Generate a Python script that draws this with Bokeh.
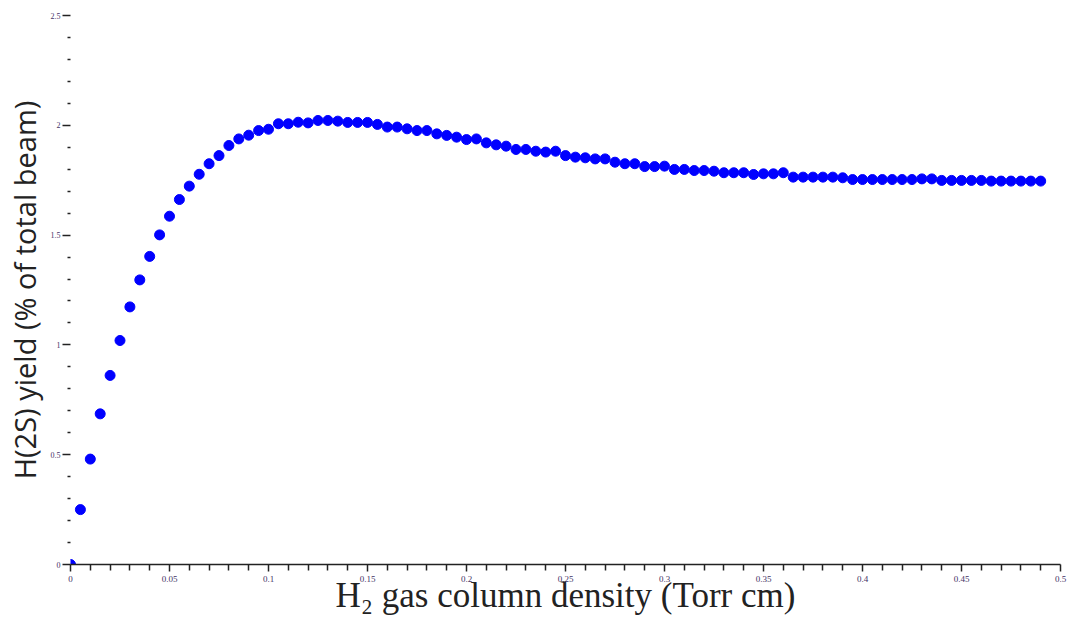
from bokeh.plotting import figure
from bokeh.models import FixedTicker, ColumnDataSource, Range1d
from bokeh.embed import file_html
from bokeh.resources import INLINE

# column density (Torr cm), step 0.005
density = [0.000, 0.005, 0.010, 0.015, 0.020, 0.025, 0.030, 0.035, 0.040, 0.045,
           0.050, 0.055, 0.060, 0.065, 0.070, 0.075, 0.080, 0.085, 0.090, 0.095,
           0.100, 0.105, 0.110, 0.115, 0.120, 0.125, 0.130, 0.135, 0.140, 0.145,
           0.150, 0.155, 0.160, 0.165, 0.170, 0.175, 0.180, 0.185, 0.190, 0.195,
           0.200, 0.205, 0.210, 0.215, 0.220, 0.225, 0.230, 0.235, 0.240, 0.245,
           0.250, 0.255, 0.260, 0.265, 0.270, 0.275, 0.280, 0.285, 0.290, 0.295,
           0.300, 0.305, 0.310, 0.315, 0.320, 0.325, 0.330, 0.335, 0.340, 0.345,
           0.350, 0.355, 0.360, 0.365, 0.370, 0.375, 0.380, 0.385, 0.390, 0.395,
           0.400, 0.405, 0.410, 0.415, 0.420, 0.425, 0.430, 0.435, 0.440, 0.445,
           0.450, 0.455, 0.460, 0.465, 0.470, 0.475, 0.480, 0.485, 0.490]

# H(2S) yield (% of total beam)
h2s_yield = [0.000, 0.250, 0.480, 0.686, 0.861, 1.020, 1.173, 1.296, 1.403, 1.501,
             1.586, 1.662, 1.723, 1.777, 1.825, 1.862, 1.908, 1.938, 1.955, 1.976,
             1.982, 2.007, 2.007, 2.014, 2.011, 2.022, 2.022, 2.019, 2.013, 2.013,
             2.013, 2.004, 1.992, 1.992, 1.984, 1.976, 1.976, 1.961, 1.954, 1.946,
             1.935, 1.938, 1.920, 1.911, 1.905, 1.890, 1.890, 1.882, 1.878, 1.882,
             1.862, 1.855, 1.852, 1.847, 1.847, 1.832, 1.825, 1.825, 1.812, 1.812,
             1.814, 1.799, 1.799, 1.794, 1.794, 1.791, 1.784, 1.784, 1.784, 1.776,
             1.779, 1.779, 1.784, 1.764, 1.764, 1.764, 1.764, 1.764, 1.761, 1.753,
             1.753, 1.753, 1.753, 1.753, 1.753, 1.753, 1.756, 1.756, 1.749, 1.749,
             1.749, 1.749, 1.749, 1.746, 1.746, 1.746, 1.746, 1.746, 1.746]

x_ticks = [0.0, 0.05, 0.1, 0.15, 0.2, 0.25, 0.3, 0.35, 0.4, 0.45, 0.5]
x_tick_labels = ["0", "0.05", "0.1", "0.15", "0.2", "0.25", "0.3", "0.35", "0.4", "0.45", "0.5"]
x_minor = [0.01, 0.02, 0.03, 0.04, 0.06, 0.07, 0.08, 0.09, 0.11, 0.12, 0.13, 0.14,
           0.16, 0.17, 0.18, 0.19, 0.21, 0.22, 0.23, 0.24, 0.26, 0.27, 0.28, 0.29,
           0.31, 0.32, 0.33, 0.34, 0.36, 0.37, 0.38, 0.39, 0.41, 0.42, 0.43, 0.44,
           0.46, 0.47, 0.48, 0.49]
y_ticks = [0.0, 0.5, 1.0, 1.5, 2.0, 2.5]
y_tick_labels = ["0", "0.5", "1", "1.5", "2", "2.5"]
y_minor = [0.1, 0.2, 0.3, 0.4, 0.6, 0.7, 0.8, 0.9, 1.1, 1.2, 1.3, 1.4,
           1.6, 1.7, 1.8, 1.9, 2.1, 2.2, 2.3, 2.4]

source = ColumnDataSource(data=dict(x=density, y=h2s_yield))

p = figure(width=1076, height=617, output_backend="svg", toolbar_location=None,
           x_range=Range1d(0, 0.5), y_range=Range1d(0, 2.5),
           min_border_left=70, min_border_right=16, min_border_top=15, min_border_bottom=53)
p.outline_line_color = None
p.xgrid.grid_line_color = None
p.ygrid.grid_line_color = None
p.background_fill_color = "white"
p.border_fill_color = "white"

p.scatter("x", "y", source=source, size=10, color="#0000ff", line_color="#0000ff")

# x axis
p.xaxis.ticker = FixedTicker(ticks=x_ticks, minor_ticks=x_minor)
p.xaxis.major_label_overrides = {t: l for t, l in zip(x_ticks, x_tick_labels)}
p.xaxis.axis_line_color = "#222222"
p.xaxis.axis_line_width = 1.5
p.xaxis.major_tick_line_color = "#222222"
p.xaxis.major_tick_line_width = 1.5
p.xaxis.minor_tick_line_color = "#222222"
p.xaxis.minor_tick_line_width = 1.5
p.xaxis.major_tick_out = 7
p.xaxis.major_tick_in = 0
p.xaxis.minor_tick_out = 6
p.xaxis.minor_tick_in = 0
p.xaxis.major_label_text_font = "Liberation Sans Narrow"
p.xaxis.major_label_text_font_size = "9px"
p.xaxis.major_label_text_color = "#443366"
p.xaxis.major_label_standoff = 4
p.xaxis.axis_label = "H\u2082 gas column density (Torr cm)"
p.xaxis.axis_label_text_font = "Liberation Serif"
p.xaxis.axis_label_text_font_style = "normal"
p.xaxis.axis_label_text_font_size = "35px"
p.xaxis.axis_label_text_color = "#222222"
p.xaxis.axis_label_standoff = -9

# y axis
p.yaxis.ticker = FixedTicker(ticks=y_ticks, minor_ticks=y_minor)
p.yaxis.major_label_overrides = {t: l for t, l in zip(y_ticks, y_tick_labels)}
p.yaxis.axis_line_color = None
p.yaxis.major_tick_line_color = "#222222"
p.yaxis.major_tick_line_width = 1.5
p.yaxis.minor_tick_line_color = "#222222"
p.yaxis.minor_tick_line_width = 1.5
p.yaxis.major_tick_out = 8
p.yaxis.major_tick_in = 0
p.yaxis.minor_tick_out = 3
p.yaxis.minor_tick_in = 0
p.yaxis.major_label_text_font = "Liberation Sans Narrow"
p.yaxis.major_label_text_font_size = "8px"
p.yaxis.major_label_text_color = "#443366"
p.yaxis.major_label_standoff = 2
p.yaxis.axis_label = "H(2S) yield (% of total beam)"
p.yaxis.axis_label_text_font = "Open Sans"
p.yaxis.axis_label_text_font_style = "normal"
p.yaxis.axis_label_text_font_size = "29px"
p.yaxis.axis_label_text_color = "#222222"
p.yaxis.axis_label_standoff = 4

open("out.html", "w").write(file_html(p, INLINE))
